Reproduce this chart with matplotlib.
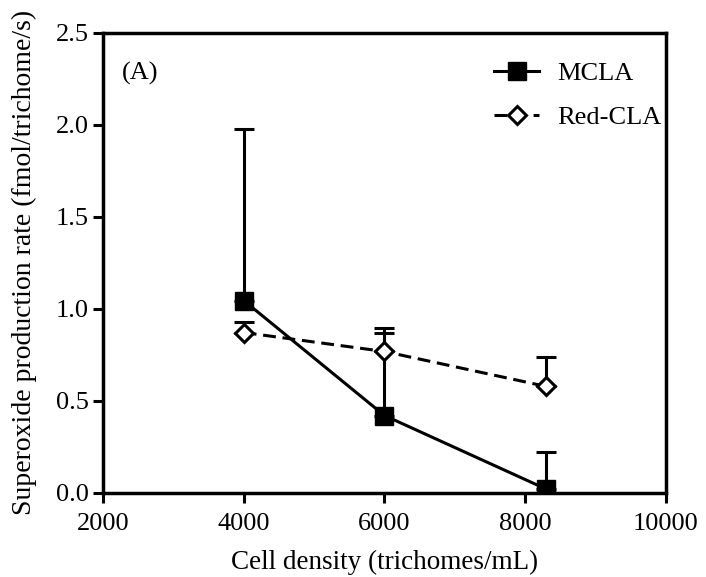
import matplotlib
matplotlib.use("Agg")
import matplotlib.pyplot as plt
from matplotlib.lines import Line2D

plt.rcParams['font.family'] = ['Liberation Serif', 'DejaVu Serif']

# data
density = [4000, 6000, 8300]
mcla = [1.045, 0.42, 0.02]
mcla_err = [0.935, 0.45, 0.20]
redcla = [0.871, 0.768, 0.578]
redcla_err = [0.06, 0.13, 0.16]

fig = plt.figure(figsize=(7.06, 5.77), dpi=100)
ax = fig.add_axes([0.146, 0.146, 0.797, 0.797])

lw = 2.2
dash = (0, (4.2, 2.2))
ax.errorbar(density, mcla, yerr=[[0, 0, 0], mcla_err], color='black', lw=lw,
            marker='s', markersize=13, elinewidth=lw, capsize=7.5, capthick=lw,
            zorder=3)
ax.errorbar(density, redcla, yerr=[[0, 0, 0], redcla_err], color='black', lw=lw,
            linestyle=dash, marker='D', markersize=9.5,
            markerfacecolor='white', markeredgewidth=lw, elinewidth=lw,
            capsize=7.5, capthick=lw, zorder=4)

ax.set_xlim(2000, 10000)
ax.set_ylim(0, 2.5)
ax.set_xticks([2000, 4000, 6000, 8000, 10000])
ax.set_yticks([0.0, 0.5, 1.0, 1.5, 2.0, 2.5])
ax.set_yticklabels(['0.0', '0.5', '1.0', '1.5', '2.0', '2.5'])
ax.tick_params(direction='out', length=7, width=lw, labelsize=19, top=False, right=False)
ax.tick_params(axis='x', pad=7.5)
for s in ax.spines.values():
    s.set_linewidth(2.5)

ax.set_xlabel('Cell density (trichomes/mL)', fontsize=19.5)
ax.set_ylabel('Superoxide production rate (fmol/trichome/s)', fontsize=20)
ax.xaxis.set_label_coords(0.5, -0.125)
ax.yaxis.set_label_coords(-0.118, 0.5)
ax.text(2270, 2.28, '(A)', fontsize=19, va='center')

handles = [
    Line2D([], [], color='black', lw=lw, marker='s', markersize=13),
    Line2D([], [], color='black', lw=lw, linestyle=dash, marker='D',
           markersize=9.5, markerfacecolor='white', markeredgewidth=lw),
]
ax.legend(handles, ['MCLA', 'Red-CLA'], loc='upper right',
          bbox_to_anchor=(0.993, 0.937), frameon=False, fontsize=19,
          handlelength=1.7, handletextpad=0.7, labelspacing=0.78,
          borderpad=0, borderaxespad=0)

fig.savefig('out.png', dpi=100)
